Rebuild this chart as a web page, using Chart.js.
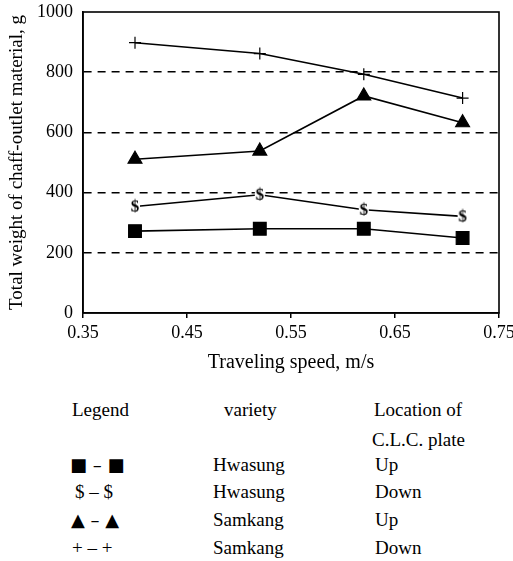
<!DOCTYPE html>
<html>
<head>
<meta charset="utf-8">
<script src="https://cdn.jsdelivr.net/npm/chart.js@4"></script>
<style>
    body { margin: 0; background: #fff; }
    #wrap { position: relative; width: 513px; height: 561px; font-family: "Liberation Serif", "DejaVu Serif", serif; color: #000; }
    #chartBox { position: absolute; left: 0; top: 0; width: 513px; height: 380px; }
    .t { position: absolute; font-size: 19px; line-height: 20px; white-space: nowrap; }
    .sym { font-family: "DejaVu Sans", sans-serif; font-size: 18px; }
</style>
</head>
<body>
<div id="wrap">
    <div id="chartBox"><canvas id="chart" width="513" height="380"></canvas></div>

    <div class="t" style="left:72px; top:400px;">Legend</div>
    <div class="t" style="left:224px; top:400px;">variety</div>
    <div class="t" style="left:374px; top:400px;">Location of</div>
    <div class="t" style="left:372px; top:430px;">C.L.C. plate</div>

    <div class="t sym" style="left:70px; top:455px;">■ – ■</div>
    <div class="t" style="left:75px; top:482px;">$ – $</div>
    <div class="t sym" style="left:71px; top:510px;">▲ – ▲</div>
    <div class="t" style="left:72px; top:538px;">+ – +</div>

    <div class="t" style="left:213px; top:455px;">Hwasung</div>
    <div class="t" style="left:213px; top:482px;">Hwasung</div>
    <div class="t" style="left:213px; top:510px;">Samkang</div>
    <div class="t" style="left:213px; top:538px;">Samkang</div>

    <div class="t" style="left:375px; top:455px;">Up</div>
    <div class="t" style="left:375px; top:482px;">Down</div>
    <div class="t" style="left:375px; top:510px;">Up</div>
    <div class="t" style="left:375px; top:538px;">Down</div>
</div>

<script>
const speed = [0.40, 0.52, 0.62, 0.715];
const hwasungUp = [272, 280, 280, 249];
const hwasungDown = [354, 393, 343, 321];
const samkangUp = [511, 538, 721, 632];
const samkangDown = [898, 862, 793, 714];
const xTicks = [0.35, 0.45, 0.55, 0.65, 0.75];
const yTicks = [0, 200, 400, 600, 800, 1000];

const FONT = '"Liberation Serif", "DejaVu Serif", serif';
const INK = '#000';

// "$" marker drawn on a small canvas so it can be used as a pointStyle
function dollarMarker() {
    const c = document.createElement('canvas');
    c.width = 12;
    c.height = 18;
    const g = c.getContext('2d');
    g.fillStyle = '#fff';
    g.fillRect(1, 1, 10, 16);
    g.fillStyle = INK;
    g.font = 'bold 17px ' + FONT;
    g.textAlign = 'center';
    g.textBaseline = 'middle';
    g.fillText('$', 6, 10);
    return c;
}

function pairs(xs, ys) {
    return xs.map((x, i) => ({ x: x, y: ys[i] }));
}

function series(label, values, style, radius) {
    return {
        label: label,
        data: pairs(speed, values),
        borderColor: INK,
        backgroundColor: INK,
        borderWidth: 1.6,
        pointStyle: style,
        pointRadius: radius,
        pointHoverRadius: radius,
        pointBorderWidth: 1.2,
        pointBorderColor: INK,
        pointBackgroundColor: INK,
        tension: 0
    };
}

const frame = {
    id: 'frame',
    afterDraw(chart) {
        const { ctx, chartArea: a } = chart;
        ctx.save();
        ctx.strokeStyle = INK;
        ctx.lineWidth = 1.6;
        ctx.strokeRect(a.left, a.top, a.right - a.left, a.bottom - a.top);
        ctx.restore();
    }
};

new Chart(document.getElementById('chart'), {
    type: 'line',
    data: {
        datasets: [
            series('Hwasung Up', hwasungUp, 'rect', 9),
            series('Hwasung Down', hwasungDown, dollarMarker(), 8),
            series('Samkang Up', samkangUp, 'triangle', 8),
            series('Samkang Down', samkangDown, 'cross', 6)
        ]
    },
    options: {
        responsive: false,
        animation: false,
        layout: { padding: { top: 12, right: 14, left: 0, bottom: 0 } },
        plugins: {
            legend: { display: false },
            tooltip: { enabled: false }
        },
        scales: {
            x: {
                type: 'linear',
                min: 0.35,
                max: 0.75,
                afterBuildTicks: (scale) => { scale.ticks = xTicks.map(v => ({ value: v })); },
                afterFit: (scale) => { scale.height = 67; scale.paddingLeft = 0; scale.paddingRight = 0; },
                ticks: {
                    color: INK,
                    padding: 4,
                    maxRotation: 0,
                    font: { family: FONT, size: 18 },
                    callback: (v) => Number(v).toFixed(2)
                },
                grid: { drawOnChartArea: false, drawTicks: true, tickLength: 5, color: INK, lineWidth: 1.5 },
                border: { color: INK, width: 1.6 },
                title: {
                    display: true,
                    text: 'Traveling speed, m/s',
                    color: INK,
                    font: { family: FONT, size: 20 },
                    padding: { top: 0, bottom: 5 }
                }
            },
            y: {
                min: 0,
                max: 1000,
                afterBuildTicks: (scale) => { scale.ticks = yTicks.map(v => ({ value: v })); },
                afterFit: (scale) => { scale.width = 83; scale.paddingTop = 0; scale.paddingBottom = 0; },
                ticks: {
                    color: INK,
                    padding: 10,
                    font: { family: FONT, size: 18 },
                    callback: (v) => String(v)
                },
                grid: {
                    drawTicks: false,
                    lineWidth: 1.5,
                    color: (ctx) => (ctx.tick && (ctx.tick.value === 0 || ctx.tick.value === 1000)) ? 'rgba(0,0,0,0)' : INK
                },
                border: { color: INK, width: 1.6, dash: [8, 6] },
                title: {
                    display: true,
                    text: 'Total weight of chaff-outlet material, g',
                    color: INK,
                    font: { family: FONT, size: 19 },
                    padding: { top: 6, bottom: 0 }
                }
            }
        }
    },
    plugins: [frame]
});
</script>
</body>
</html>
